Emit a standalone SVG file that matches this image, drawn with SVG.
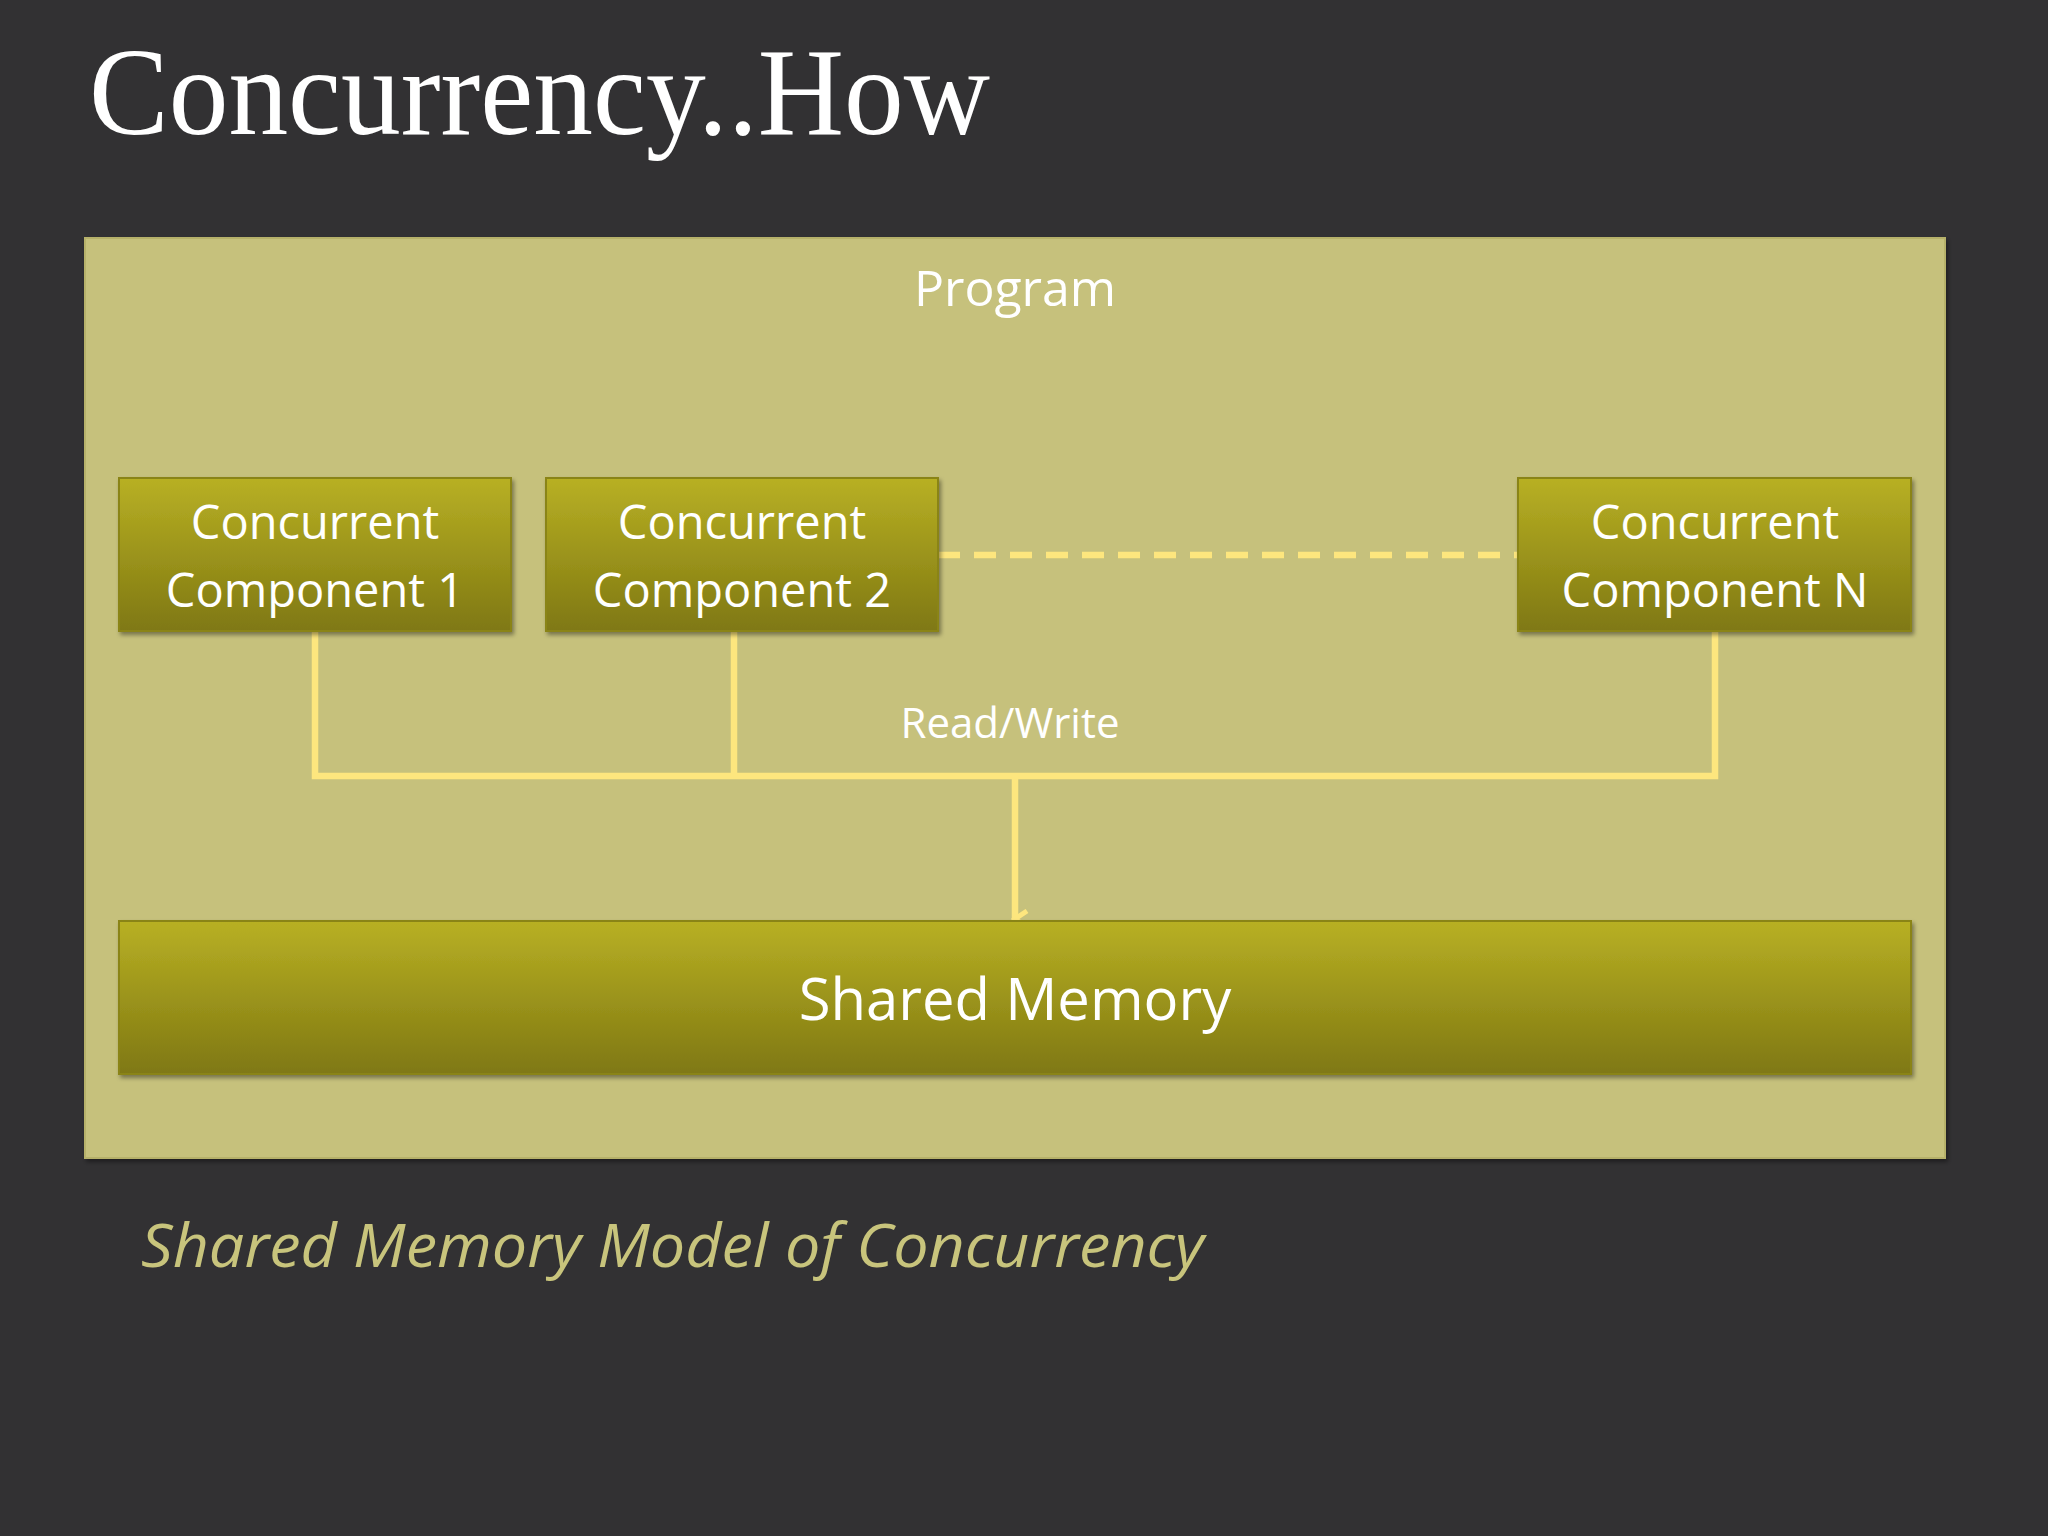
<svg xmlns="http://www.w3.org/2000/svg" width="2048" height="1536" viewBox="0 0 2048 1536">
<defs>
<linearGradient id="g" x1="0" y1="0" x2="0" y2="1"><stop offset="0" stop-color="#b8b024"/><stop offset="1" stop-color="#7f7812"/></linearGradient>
<filter id="sh" x="-5%" y="-5%" width="110%" height="120%"><feDropShadow dx="2" dy="3" stdDeviation="2" flood-color="#000" flood-opacity="0.4"/></filter>
<marker id="ah" viewBox="0 0 20 20" refX="10" refY="16" markerWidth="20" markerHeight="20" markerUnits="userSpaceOnUse" orient="auto"><path d="M2,4 L10,16 L18,4" fill="none" stroke="#fde67e" stroke-width="5"/></marker>
</defs>
<style>
.node{fill:url(#g);stroke:#8a8418;stroke-width:2;filter:url(#sh)}
.t{font-family:"Open Sans","Noto Sans",sans-serif;fill:#fff;text-anchor:middle}
.c{fill:none;stroke:#fde67e;stroke-width:6.5}
</style>
<rect width="2048" height="1536" fill="#323133"/>
<text x="89" y="134" font-family="Liberation Serif,serif" font-size="124" fill="#fff" textLength="901" lengthAdjust="spacingAndGlyphs">Concurrency..How</text>
<g id="program"><rect x="85" y="238" width="1860" height="920" fill="#c6c17b" stroke="#b6b16a" stroke-width="2" filter="url(#sh)"/><text class="t" x="1015" y="306" font-size="50">Program</text></g>
<g id="connectors">
<line class="c" x1="938" y1="555" x2="1518" y2="555" stroke-dasharray="22,14"/>
<polyline class="c" points="315,631 315,776 1715,776 1715,631"/>
<line class="c" x1="734" y1="631" x2="734" y2="776"/>
<line class="c" x1="1015" y1="776" x2="1015" y2="919" marker-end="url(#ah)"/>
<text class="t" x="1010" y="738" font-size="42">Read/Write</text>
</g>
<g id="c1"><rect class="node" x="119" y="478" width="392" height="153"/><text class="t" x="315" y="539" font-size="47">Concurrent</text><text class="t" x="315" y="607" font-size="47">Component 1</text></g>
<g id="c2"><rect class="node" x="546" y="478" width="392" height="153"/><text class="t" x="742" y="539" font-size="47">Concurrent</text><text class="t" x="742" y="607" font-size="47">Component 2</text></g>
<g id="cN"><rect class="node" x="1518" y="478" width="393" height="153"/><text class="t" x="1715" y="539" font-size="47">Concurrent</text><text class="t" x="1715" y="607" font-size="47">Component N</text></g>
<g id="mem"><rect class="node" x="119" y="921" width="1792" height="153"/><text class="t" x="1015" y="1020" font-size="58">Shared Memory</text></g>
<text x="141" y="1267" font-family="Open Sans,Noto Sans,sans-serif" font-style="italic" font-size="60" fill="#c8c47c" textLength="1063" lengthAdjust="spacingAndGlyphs">Shared Memory Model of Concurrency</text>
</svg>
